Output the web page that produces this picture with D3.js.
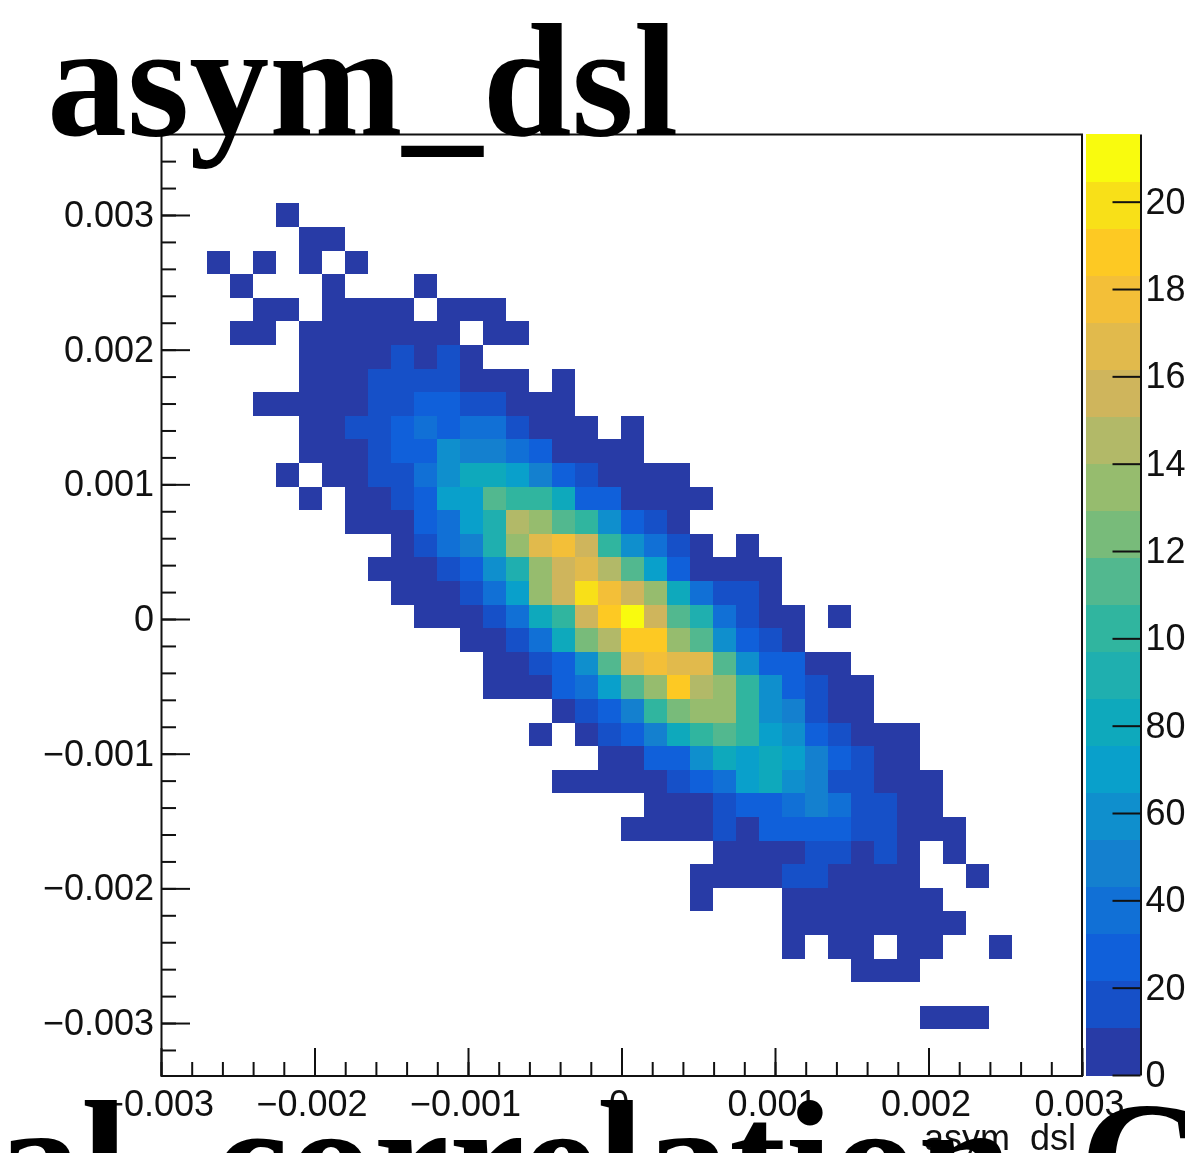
<!DOCTYPE html>
<html>
<head>
<meta charset="utf-8">
<title>asym_dsl</title>
<script src="https://cdnjs.cloudflare.com/ajax/libs/d3/7.8.5/d3.min.js"></script>
<style>
html, body { margin: 0; padding: 0; background: #fff; overflow: hidden; }
svg { display: block; filter: blur(0.6px); }
text { font-family: "Liberation Sans", Arial, sans-serif; fill: #111; }
.big { font-family: "Liberation Serif", serif; font-weight: bold; fill: #000; }
</style>
</head>
<body>
<svg width="1185" height="1153"></svg>
<script>
const svg = d3.select("svg");

// histogram: 40 x 40 bins, rows listed from the top of the plot
const nBins = 40;
const rowStart = [0, 0, 0, 5, 6, 2, 3, 4, 3, 6, 6, 4, 6, 6, 5, 6, 8, 10, 9, 10,
  11, 13, 14, 14, 17, 16, 19, 17, 21, 20, 24, 23, 23, 27, 27, 30, 0, 33, 0, 0];
const rowCounts = [
  [], [], [],
  [4],
  [4, 4],
  [4, 0, 4, 0, 4, 0, 4],
  [4, 0, 0, 0, 4, 0, 0, 0, 4],
  [4, 4, 0, 4, 4, 4, 4, 0, 4, 4, 4],
  [4, 4, 0, 4, 4, 4, 4, 4, 4, 4, 0, 4, 4],
  [4, 4, 4, 4, 16, 4, 16, 4],
  [4, 4, 4, 16, 16, 16, 16, 4, 4, 4, 0, 4],
  [4, 4, 4, 4, 4, 16, 16, 27, 27, 16, 16, 4, 4, 4],
  [4, 4, 16, 16, 27, 37, 27, 37, 37, 16, 4, 4, 4, 0, 4],
  [4, 4, 4, 16, 27, 27, 59, 48, 48, 37, 27, 4, 4, 4, 4],
  [4, 0, 4, 4, 16, 16, 37, 59, 81, 81, 70, 48, 27, 16, 4, 4, 4, 4],
  [4, 0, 4, 4, 16, 27, 70, 70, 113, 102, 102, 81, 27, 27, 4, 4, 4, 4],
  [4, 4, 4, 27, 37, 70, 91, 145, 135, 113, 102, 59, 27, 16, 4],
  [4, 16, 37, 48, 91, 135, 167, 178, 156, 102, 59, 37, 16, 4, 0, 4],
  [4, 4, 4, 16, 27, 59, 91, 135, 156, 167, 145, 113, 70, 27, 4, 4, 4, 4],
  [4, 4, 4, 16, 37, 70, 135, 156, 199, 178, 156, 135, 81, 37, 16, 16, 4],
  [4, 4, 4, 16, 37, 81, 102, 156, 189, 210, 156, 113, 91, 37, 16, 4, 4, 0, 4],
  [4, 4, 16, 37, 81, 124, 145, 189, 189, 135, 113, 59, 27, 16, 4],
  [4, 4, 16, 27, 59, 113, 167, 178, 167, 167, 113, 59, 27, 27, 4, 4],
  [4, 4, 4, 27, 37, 70, 113, 135, 189, 145, 135, 102, 59, 27, 16, 4, 4],
  [4, 16, 27, 48, 102, 124, 135, 135, 102, 59, 48, 16, 4, 4],
  [4, 0, 4, 16, 27, 48, 81, 102, 113, 102, 70, 59, 27, 16, 4, 4, 4],
  [4, 4, 27, 27, 59, 81, 70, 81, 70, 48, 27, 16, 4, 4],
  [4, 4, 4, 4, 4, 16, 27, 37, 70, 81, 59, 48, 16, 16, 4, 4, 4],
  [4, 4, 4, 16, 27, 27, 37, 48, 37, 16, 16, 4, 4],
  [4, 4, 4, 4, 16, 4, 27, 27, 27, 27, 16, 16, 4, 4, 4],
  [4, 4, 4, 4, 16, 16, 4, 16, 4, 0, 4],
  [4, 4, 4, 4, 16, 16, 4, 4, 4, 4, 0, 0, 4],
  [4, 0, 0, 0, 4, 4, 4, 4, 4, 4, 4],
  [4, 4, 4, 4, 4, 4, 4, 4],
  [4, 0, 4, 4, 0, 4, 4, 0, 0, 4],
  [4, 4, 4],
  [],
  [4, 4, 4],
  [], []
];

const xMajor = [-0.003, -0.002, -0.001, 0, 0.001, 0.002, 0.003];
const yMajor = [-0.003, -0.002, -0.001, 0, 0.001, 0.002, 0.003];
const zMajor = [0, 20, 40, 60, 80, 100, 120, 140, 160, 180, 200];
const palette = ["#283ba6", "#1650c8", "#1060da", "#1170d6", "#1480cf", "#0f8fcd",
  "#09a0cb", "#0ea9bc", "#1fafaf", "#30b59f", "#52b88f", "#78bb7a", "#96bc6e",
  "#b2b968", "#cfb55c", "#e1ba4c", "#f3bf38", "#fdc923", "#f8e018", "#f9fb0e"];

const xMin = -0.003, xMax = 0.003;
const yMin = -0.003397, yMax = 0.0036125;
const zMax = 215.5;

const x = d3.scaleLinear().domain([xMin, xMax]).range([160.5, 1081.5]);
const y = d3.scaleLinear().domain([yMin, yMax]).range([1076.5, 132.5]);
const z = d3.scaleLinear().domain([0, zMax]).range([1075, 134]);
const color = d3.scaleQuantize().domain([0, zMax]).range(palette);

const binW = (xMax - xMin) / nBins;
const binH = (yMax - yMin) / nBins;

// flatten the rows into cells
const cells = [];
rowCounts.forEach((row, r) => {
  row.forEach((count, i) => {
    if (count > 0) cells.push({ col: rowStart[r] + i, row: r, count: count });
  });
});

svg.append("g")
  .attr("shape-rendering", "crispEdges")
  .selectAll("rect")
  .data(cells)
  .join("rect")
  .attr("x", d => x(xMin + d.col * binW))
  .attr("y", d => y(yMax - d.row * binH))
  .attr("width", x(binW) - x(0))
  .attr("height", y(0) - y(binH))
  .attr("fill", d => color(d.count));

// frame
svg.append("rect")
  .attr("x", 161.5)
  .attr("y", 134.5)
  .attr("width", 920.5)
  .attr("height", 941.5)
  .attr("fill", "none")
  .attr("stroke", "#111")
  .attr("stroke-width", 2);

// minor ticks every fifth of a major division
const fmt = d => d === 0 ? "0" : (d < 0 ? "\u2212" : "") + Math.abs(d).toFixed(3);
const xMinor = d3.range(-30, 31, 2).map(d => d / 10000);
const yMinor = d3.range(-32, 35, 2).map(d => d / 10000);

const xMinorAxis = d3.axisBottom(x).tickValues(xMinor).tickSizeInner(-14).tickSizeOuter(0).tickFormat("");
const xAxis = d3.axisBottom(x).tickValues(xMajor).tickSizeInner(-28).tickSizeOuter(0).tickPadding(14).tickFormat(fmt);
const yMinorAxis = d3.axisLeft(y).tickValues(yMinor).tickSizeInner(-14).tickSizeOuter(0).tickFormat("");
const yAxis = d3.axisLeft(y).tickValues(yMajor).tickSizeInner(-28).tickSizeOuter(0).tickPadding(8).tickFormat(fmt);

function drawAxis(axis, tx, ty) {
  const g = svg.append("g").attr("transform", `translate(${tx},${ty})`).call(axis);
  g.select(".domain").remove();
  g.selectAll("line").attr("stroke", "#111").attr("stroke-width", 2);
  g.selectAll("text").attr("font-size", 36).attr("font-family", '"Liberation Sans", Arial, sans-serif').attr("fill", "#111");
  return g;
}

drawAxis(xMinorAxis, 0.5, 1076);
drawAxis(xAxis, 0.5, 1076).selectAll("text").attr("dx", -3);
drawAxis(yMinorAxis, 162, 0);
drawAxis(yAxis, 162, 0);

// colour bar
const bandH = z(0) - z(zMax / palette.length);
svg.append("g")
  .attr("shape-rendering", "crispEdges")
  .selectAll("rect")
  .data(palette)
  .join("rect")
  .attr("x", 1086)
  .attr("width", 54)
  .attr("y", (d, i) => z((i + 1) * zMax / palette.length))
  .attr("height", bandH + 0.5)
  .attr("fill", d => d);

const zAxis = d3.axisRight(z).tickValues(zMajor).tickSizeInner(-28).tickSizeOuter(0).tickPadding(5);
const zG = svg.append("g").attr("transform", "translate(1140.5,0)").call(zAxis);
zG.select(".domain").attr("stroke", "#111").attr("stroke-width", 2);
zG.selectAll("line").attr("stroke", "#111").attr("stroke-width", 2);
zG.selectAll("text").attr("font-size", 36).attr("font-family", '"Liberation Sans", Arial, sans-serif').attr("fill", "#111");

// x axis title
svg.append("text")
  .attr("x", 1076)
  .attr("y", 1150)
  .attr("text-anchor", "end")
  .attr("font-size", 36)
  .text("asym_dsl");

// titles sit on top of everything, the lower one runs off the page
svg.append("text")
  .attr("class", "big")
  .attr("x", 47)
  .attr("y", 135)
  .attr("font-size", 160)
  .text("asym_dsl");

const lowerTitle = svg.append("text")
  .attr("class", "big")
  .attr("x", -4)
  .attr("y", 1218)
  .attr("font-size", 170)
  .text("al_correlation_");
lowerTitle.append("tspan")
  .attr("dx", -18)
  .text("C");
</script>
</body>
</html>
